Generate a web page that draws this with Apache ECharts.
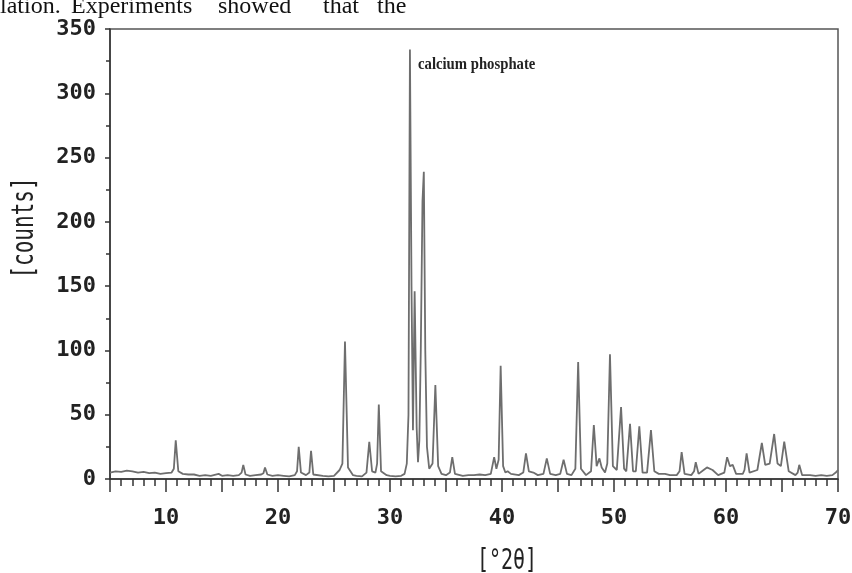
<!DOCTYPE html>
<html>
<head>
<meta charset="utf-8">
<title>XRD</title>
<script src="https://cdn.jsdelivr.net/npm/echarts@6.0.0/dist/echarts.min.js"></script>
<style>
  html, body { margin: 0; padding: 0; background: #fff; }
  #main { width: 852px; height: 573px; }
</style>
</head>
<body>
<div id="main"></div>
<script>
var angle = [
  5, 5.5, 6, 6.5, 7, 7.5, 8, 8.5, 9, 9.5, 10, 10.5, 10.7, 10.87, 11.1, 11.5,
  12, 12.5, 13, 13.5, 14, 14.7, 15, 15.5, 16, 16.5, 16.75, 16.9, 17.1, 17.5,
  18, 18.5, 18.7, 18.84, 19.05, 19.5, 20, 20.5, 21, 21.5, 21.7, 21.85, 22.05, 22.5,
  22.8, 22.95, 23.15, 24, 24.5, 25, 25.5, 25.75, 25.98, 26.25, 26.7, 27, 27.5,
  27.9, 28.15, 28.4, 28.7, 28.85, 29.0, 29.2, 29.7, 30, 30.5, 31, 31.3, 31.5,
  31.65, 31.78, 31.92, 32.05, 32.2, 32.38, 32.5, 32.62, 32.75, 32.9, 33.02, 33.15,
  33.3, 33.5, 33.8, 34.05, 34.3, 34.6, 35, 35.35, 35.56, 35.8, 36.5, 37, 37.5,
  38, 38.5, 39, 39.3, 39.5, 39.7, 39.88, 40.1, 40.3, 40.5, 40.8, 41.5, 41.9,
  42.14, 42.4, 42.8, 43.2, 43.7, 44.0, 44.3, 44.8, 45.2, 45.5, 45.8, 46.2, 46.55,
  46.8, 47.05, 47.5, 47.95, 48.2, 48.45, 48.7, 48.9, 49.2, 49.4, 49.64, 49.9,
  50.25, 50.63, 50.9, 51.1, 51.43, 51.7, 51.95, 52.26, 52.55, 52.95, 53.3, 53.6,
  54, 54.55, 55, 55.6, 55.85, 56.04, 56.3, 56.9, 57.15, 57.3, 57.55, 58, 58.3,
  58.8, 59.3, 59.85, 60.1, 60.35, 60.6, 60.9, 61.5, 61.65, 61.84, 62.1, 62.8,
  63.2, 63.5, 63.9, 64.3, 64.6, 64.9, 65.2, 65.6, 66.2, 66.4, 66.54, 66.8,
  67.5, 68, 68.5, 69, 69.5, 69.8, 70
];
var counts = [
  5, 6, 5.5, 6.5, 6, 5, 5.5, 4.5, 5, 4, 4.5, 5, 8, 30, 6, 4,
  3.5, 3.5, 2.5, 3, 2.5, 4, 2.5, 3, 2.5, 3, 5, 11, 3.5, 2.5,
  3, 3.5, 4.5, 9, 3.5, 2.5, 3, 2.5, 2, 3, 6, 25, 5, 3,
  5, 22, 3.5, 2.5, 2, 2.5, 7, 12, 107, 9, 3, 2.5, 2,
  5, 29, 6, 5, 12, 58, 6, 3, 2.5, 2, 2.5, 4, 12,
  50, 334, 150, 38, 146, 40, 13, 30, 101, 216, 239, 100,
  25, 8, 12, 73, 10, 4, 3, 5, 17, 4, 2.5, 3, 3,
  3.5, 3, 4, 17, 8, 15, 88, 10, 5, 6, 4, 3, 5,
  20, 6, 5, 3, 4, 16, 4, 3, 4, 15, 4, 3, 8,
  91, 8, 3, 6, 42, 10, 16, 9, 5, 12, 97, 10,
  7, 56, 8, 6, 43, 6, 6, 41, 5, 5, 38, 6,
  4, 4, 3, 3, 6, 21, 4, 3, 6, 13, 4, 7, 9,
  7, 3, 5, 17, 10, 11, 4, 4, 7, 20, 5, 7,
  28, 11, 12, 35, 12, 10, 29, 6, 3, 5, 11, 3,
  3, 2.5, 3, 2.5, 3, 5, 7
];
var yTicks = [0, 50, 100, 150, 200, 250, 300, 350];

// words of the page text above the figure, with their left edges
var pageWords = ['lation.', 'Experiments', 'showed', 'that', 'the'];
var pageWordX = [0, 71, 218, 323, 377];

var points = [];
for (var i = 0; i < angle.length; i++) {
  points.push([angle[i], counts[i]]);
}

var chart = echarts.init(document.getElementById('main'));

var tickFont = {
  color: '#222',
  fontFamily: 'DejaVu Sans Mono',
  fontWeight: 'bold',
  fontSize: 22
};

var graphics = [];
pageWords.forEach(function (w, k) {
  graphics.push({
    type: 'text',
    x: pageWordX[k],
    y: -5,
    style: {
      text: w,
      fontFamily: 'Liberation Serif',
      fontSize: 24,
      fill: '#111'
    }
  });
});

graphics.push(
  {
    type: 'text',
    x: 418,
    y: 65,
    style: {
      text: 'calcium phosphate',
      fontFamily: 'Liberation Serif',
      fontWeight: 'bold',
      fontSize: 16,
      fill: '#222',
      verticalAlign: 'middle'
    },
    scaleX: 0.92
  },
  {
    type: 'text',
    x: 25,
    y: 228,
    rotation: Math.PI / 2,
    scaleY: 1.4,
    style: {
      text: '[counts]',
      fontFamily: 'DejaVu Sans Mono',
      fontSize: 21,
      fill: '#222',
      align: 'center',
      verticalAlign: 'middle'
    }
  },
  {
    type: 'text',
    x: 507,
    y: 562,
    scaleY: 1.4,
    style: {
      text: '[°2θ]',
      fontFamily: 'DejaVu Sans Mono',
      fontSize: 20,
      fill: '#222',
      align: 'center',
      verticalAlign: 'middle'
    }
  }
);

var option = {
  backgroundColor: '#fff',
  animation: false,
  grid: {
    left: 110,
    right: 14,
    top: 29,
    bottom: 94,
    outerBoundsMode: 'none',
    containLabel: false,
    show: true,
    borderColor: '#555',
    borderWidth: 1.5
  },
  xAxis: {
    type: 'value',
    min: 5,
    max: 70,
    interval: 5,
    axisLine: { lineStyle: { color: '#333', width: 1.5 } },
    axisTick: { inside: false, length: 13, lineStyle: { color: '#333', width: 1.5 } },
    minorTick: { show: true, splitNumber: 5, length: 7, lineStyle: { color: '#333', width: 1.5 } },
    splitLine: { show: false },
    axisLabel: Object.assign({
      margin: 28,
      formatter: function (v) { return v % 10 === 0 ? String(v) : ''; }
    }, tickFont)
  },
  yAxis: {
    type: 'value',
    min: yTicks[0],
    max: yTicks[yTicks.length - 1],
    interval: 50,
    axisLine: { show: true, lineStyle: { color: '#333', width: 1.5 } },
    axisTick: { show: true, length: 5, lineStyle: { color: '#333', width: 1.5 } },
    minorTick: { show: true, splitNumber: 2, length: 4, lineStyle: { color: '#333', width: 1.5 } },
    splitLine: { show: false },
    axisLabel: Object.assign({ margin: 14 }, tickFont)
  },
  series: [{
    type: 'line',
    data: points,
    showSymbol: false,
    lineStyle: { color: '#6e6e6e', width: 1.8 },
    z: 3
  }],
  graphic: graphics
};

chart.setOption(option);
</script>
</body>
</html>
